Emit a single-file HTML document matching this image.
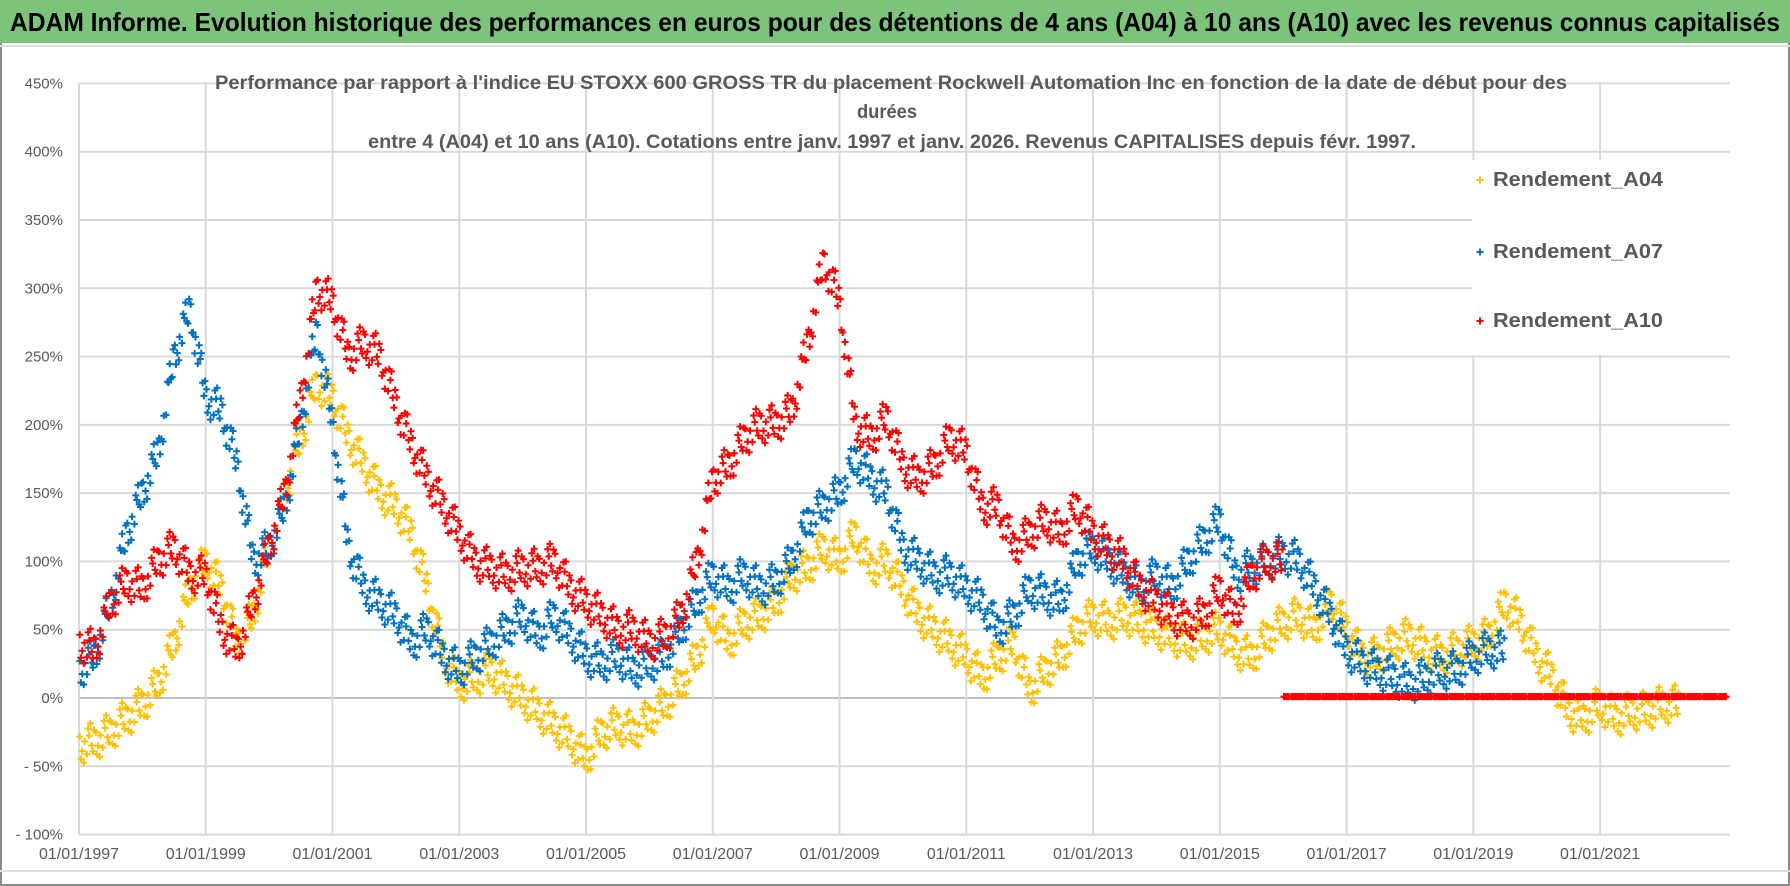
<!DOCTYPE html>
<html><head><meta charset="utf-8">
<style>
body{margin:0;background:#fff;}
#wrap{position:relative;width:1790px;height:886px;overflow:hidden;font-family:"Liberation Sans",sans-serif;}
</style></head>
<body>
<div id="wrap">
<svg id="svg" width="1790" height="886">
  <rect x="0" y="0" width="1790" height="886" fill="#fff"/>
  <rect x="1" y="1" width="1788" height="884" fill="none" stroke="#8c8c8c" stroke-width="2"/>
  <rect x="0" y="0" width="1790" height="43" fill="#7cc47c"/>
  <text x="10" y="31" textLength="1770" lengthAdjust="spacingAndGlyphs" font-size="26" font-weight="bold" fill="#000">ADAM Informe. Evolution historique des performances en euros pour des détentions de 4 ans (A04) à 10 ans (A10) avec les revenus connus capitalisés</text>
  <line x1="0" y1="46" x2="1790" y2="46" stroke="#ddd" stroke-width="2"/>
  <line x1="0" y1="871" x2="1790" y2="871" stroke="#ddd" stroke-width="2"/>
  <g id="grid"></g>
  <g id="marks"></g>
  <rect x="1472" y="160" width="258" height="195" fill="#fff"/>
  <g id="legend"></g>
  <g font-size="19" font-weight="bold" fill="#595959" font-family="Liberation Sans, sans-serif">
    <text x="215" y="89" textLength="1352" lengthAdjust="spacingAndGlyphs">Performance par rapport à l'indice EU STOXX 600 GROSS TR  du placement Rockwell Automation Inc en fonction de la date de début pour des</text>
    <text x="857" y="118" textLength="60" lengthAdjust="spacingAndGlyphs">durées</text>
    <text x="368" y="148" textLength="1048" lengthAdjust="spacingAndGlyphs">entre 4 (A04) et 10 ans (A10).  Cotations entre janv. 1997 et janv. 2026. Revenus CAPITALISES depuis févr. 1997.</text>
  </g>
  <g id="axes"></g>
</svg>
</div>
<script>
const yTicks=[450,400,350,300,250,200,150,100,50,0,-50,-100];
const yTickLabels=["450%","400%","350%","300%","250%","200%","150%","100%","50%","0%","- 50%","- 100%"];
const xTickYears=[1997,1999,2001,2003,2005,2007,2009,2011,2013,2015,2017,2019,2021];
const xTickLabels=["01/01/1997","01/01/1999","01/01/2001","01/01/2003","01/01/2005","01/01/2007","01/01/2009","01/01/2011","01/01/2013","01/01/2015","01/01/2017","01/01/2019","01/01/2021"];
const seriesNames=["Rendement_A04","Rendement_A07","Rendement_A10"];
const a04Start=1997, a07Start=1997, a10Start=1997, a10ZeroStart=2016;
const a04=[-35,-32,-25,-15,-5,10,40,80,100,80,40,60,110,150,190,230,220,190,170,150,140,120,80,30,10,15,20,10,0,-10,-20,-30,-45,-25,-20,-25,-15,-5,10,30,60,40,55,60,70,90,95,110,100,120,95,100,80,60,50,40,30,15,30,40,5,20,30,50,60,55,60,55,50,45,40,45,50,35,30,45,55,60,50,70,50,30,30,40,45,35,30,35,40,45,70,55,30,15,-10,-15,-5,-15,-10,-10,-5];
const a07=[20,30,70,120,150,180,250,285,220,210,170,100,110,140,200,270,200,110,80,70,60,40,50,30,20,30,40,50,60,45,60,45,30,25,30,20,25,30,50,70,90,80,90,80,85,100,130,140,150,175,160,150,110,100,90,90,80,70,50,60,80,75,70,100,110,100,90,80,90,80,100,115,130,90,95,100,105,100,80,60,35,25,20,15,10,15,20,20,30,35];
const a10=[40,35,70,85,80,100,110,90,90,50,35,70,110,150,220,300,290,250,260,250,215,185,160,140,120,100,95,90,95,95,100,80,70,60,50,50,40,45,60,100,160,170,190,200,200,210,260,320,290,200,190,205,170,160,170,190,180,140,140,110,120,130,120,140,120,110,100,80,70,60,55,60,80,60,90,100];
const a10Zero=[1,1,1,1,1,1,1,1,1,1,1,1,1,1,1,1,1,1,1,1,1,1,1,1,1,1,1,1];
const step=0.25;

const X0=79,X1=1730,YMIN=1997,YMAX=2023.05;
const yTop=83.4,yBot=834.6,VMAX=450,VMIN=-100;
function xs(t){return X0+(t-YMIN)/(YMAX-YMIN)*(X1-X0);}
function ys(v){return yTop+(VMAX-v)/(VMAX-VMIN)*(yBot-yTop);}
const NS="http://www.w3.org/2000/svg";
function mk(tag,attrs,parent){const e=document.createElementNS(NS,tag);for(const k in attrs)e.setAttribute(k,attrs[k]);parent.appendChild(e);return e;}
const grid=document.getElementById('grid'),axes=document.getElementById('axes'),marks=document.getElementById('marks'),legend=document.getElementById('legend');

yTicks.forEach((v,i)=>{
  const l=mk('line',{x1:X0,x2:X1,y1:ys(v),y2:ys(v),stroke:v===0?'#bfbfbf':'#d9d9d9','stroke-width':2},grid);
  
  
  const t=mk('text',{x:63,y:ys(v)+5,'text-anchor':'end','font-size':15,fill:'#595959'},axes);
  t.textContent=yTickLabels[i];
  
  
});
xTickYears.forEach((yr,i)=>{
  const l=mk('line',{x1:xs(yr),x2:xs(yr),y1:yTop,y2:yBot,stroke:'#d9d9d9','stroke-width':2},grid);
  
  
  const t=mk('text',{x:xs(yr),y:859,'text-anchor':'middle','font-size':16,fill:'#595959'},axes);
  t.textContent=xTickLabels[i];
  
  
});

const offs=[[0.05,-6],[0.2,4],[0.35,-2],[0.5,7],[0.65,-5],[0.8,2],[0.95,-8],[0.12,9],[0.58,-10],[0.88,6],[0.3,12],[0.72,-13]];
function plus(x,y,c,g){
  mk('path',{d:`M${x-3.5},${y}h7M${x},${y-3.5}v7`,stroke:c,'stroke-width':2},g);
}
function drawSeries(arr,start,color,name,spread){
  const g=mk('g',{},marks);
  
  
  arr.forEach((v,i)=>{
    const t0=start+i*step;
    const vn=i+1<arr.length?arr[i+1]:v;
    offs.forEach(o=>{
      const vv=v+(vn-v)*o[0];
      plus(xs(t0+o[0]*step),ys(vv)+o[1]*spread,color,g);
    });
  });
}
drawSeries(a04,a04Start,'#FFC000','series-a04',1.5);
drawSeries(a07,a07Start,'#0070C0','series-a07',1.5);
drawSeries(a10,a10Start,'#FF0000','series-a10',1.5);
drawSeries(a10Zero,a10ZeroStart,'#FF0000','series-a10-zero',0);

const legendColors=['#FFC000','#0070C0','#FF0000'];
const legendY=[186,258,327];
seriesNames.forEach((n,i)=>{
  const g=mk('g',{},legend);
  
  
  plus(1480,legendY[i]-6,legendColors[i],g);
  const t=mk('text',{x:1493,y:legendY[i],'font-size':20,'font-weight':'bold',fill:'#595959',textLength:170,lengthAdjust:'spacingAndGlyphs'},g);
  t.textContent=n;
});
</script>
</body></html>
